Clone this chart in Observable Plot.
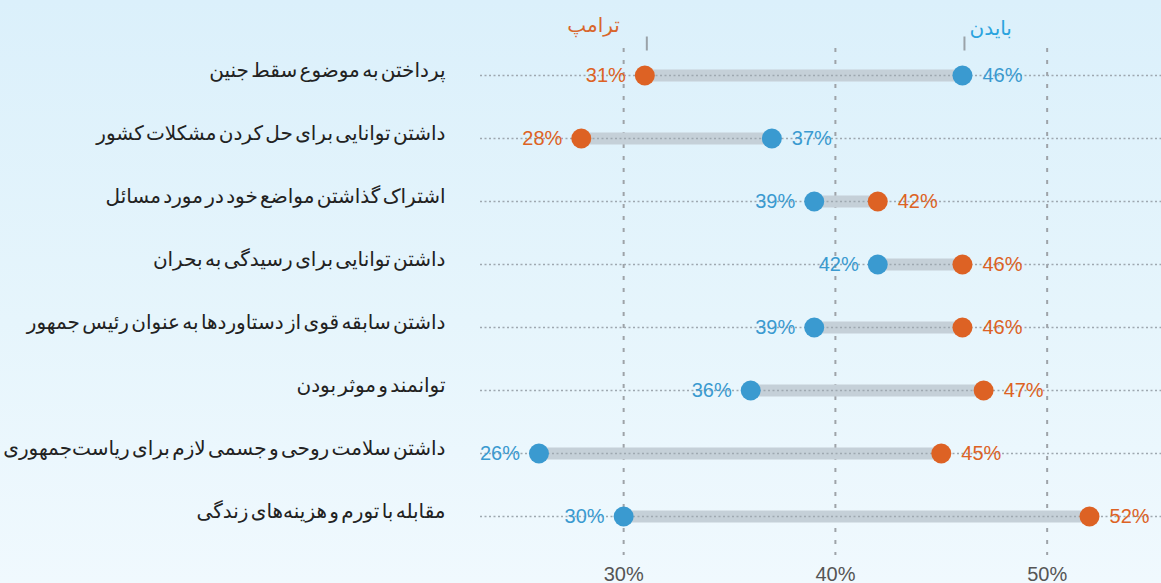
<!DOCTYPE html>
<html><head><meta charset="utf-8">
<script src="https://cdn.jsdelivr.net/npm/d3@7"></script>
<script src="https://cdn.jsdelivr.net/npm/@observablehq/plot@0.6"></script>
<style>
html,body{margin:0;padding:0;}
body{width:1161px;height:583px;background:linear-gradient(180deg,#dbf0fb 0%,#e6f5fc 55%,#f0f9fe 100%);overflow:hidden;}
g[aria-label="y-axis tick label"] text{word-spacing:-4px;}
</style></head><body><div id="chart"></div>
<script>
const categories = [
  "پرداختن به موضوع سقط جنین",
  "داشتن توانایی برای حل کردن مشکلات کشور",
  "اشتراک گذاشتن مواضع خود در مورد مسائل",
  "داشتن توانایی برای رسیدگی به بحران",
  "داشتن سابقه قوی از دستاوردها به عنوان رئیس جمهور",
  "توانمند و موثر بودن",
  "داشتن سلامت روحی و جسمی لازم برای ریاست‌جمهوری",
  "مقابله با تورم و هزینه‌های زندگی"
];
const trump = [31, 28, 42, 46, 46, 47, 45, 52];
const biden = [46, 37, 39, 42, 39, 36, 26, 30];
const xTicks = [30, 40, 50];
const seriesNames = ["ترامپ", "بایدن"];

const ORANGE = "#dd6224";
const BLUE = "#3a9ad0";
const orangeTitle = "#d8662c";
const blueTitle = "#2aa3de";

const rows = categories.map((c, i) => ({category: c, trump: trump[i], biden: biden[i]}));
const pts = rows.flatMap(r => [
  {category: r.category, value: r.trump, who: "trump", side: r.trump < r.biden ? "left" : "right"},
  {category: r.category, value: r.biden, who: "biden", side: r.biden < r.trump ? "left" : "right"}
]);
const fmt = d => d + "%";
const vline = {draw(ctx, size) { const r = Math.sqrt(size / Math.PI); ctx.moveTo(0, -r); ctx.lineTo(0, r); }};
const numFont = "Liberation Sans, Arial, sans-serif";
const faFont = "DejaVu Sans, sans-serif";

const chart = Plot.plot({
  width: 1161, height: 583,
  marginLeft: 480, marginRight: 0, marginTop: 48, marginBottom: 28,
  style: {background: "transparent", overflow: "visible"},
  x: {domain: [23.24, 55.4]},
  y: {type: "point", domain: categories, padding: 0.505, align: 0.406},
  marks: [
    Plot.gridX(xTicks, {stroke: "#9ea3a8", strokeOpacity: 1, strokeWidth: 2, strokeDasharray: "4,8"}),
    Plot.link(rows, {x1: "trump", x2: "biden", y1: "category", y2: "category", stroke: "#c5d0d8", strokeWidth: 12}),
    Plot.ruleY(categories, {y: d => d, stroke: "#9ea8b0", strokeWidth: 1.4, strokeDasharray: "2,2.5"}),
    Plot.dot(pts.filter(d => d.who === "trump"), {x: "value", y: "category", r: 10, fill: ORANGE}),
    Plot.dot(pts.filter(d => d.who === "biden"), {x: "value", y: "category", r: 10, fill: BLUE}),
    Plot.text(pts.filter(d => d.side === "left"), {x: "value", y: "category", text: d => fmt(d.value), textAnchor: "end", dx: -19, fontSize: 20, fontFamily: numFont, fill: d => d.who === "trump" ? ORANGE : BLUE}),
    Plot.text(pts.filter(d => d.side === "right"), {x: "value", y: "category", text: d => fmt(d.value), textAnchor: "start", dx: 20, fontSize: 20, fontFamily: numFont, fill: d => d.who === "trump" ? ORANGE : BLUE}),
    Plot.axisY({anchor: "left", label: null, tickSize: 0, tickPadding: 35, fontSize: 20, fontFamily: faFont, fill: "#222", dy: -5}),
    Plot.axisX({ticks: xTicks, tickFormat: fmt, tickSize: 0, tickPadding: 11, fontSize: 20, fontFamily: numFont, fill: "#555", label: null}),
    Plot.dot([0], {x: () => trump[0], y: () => categories[0], dx: 2, dy: -32, r: 7, symbol: vline, stroke: "#9aa2a8", strokeWidth: 2}),
    Plot.dot([0], {x: () => biden[0], y: () => categories[0], dx: 2, dy: -32, r: 7, symbol: vline, stroke: "#9aa2a8", strokeWidth: 2}),
    Plot.text([seriesNames[0]], {x: () => trump[0], y: () => categories[0], text: d => d, dx: -25, dy: -50, textAnchor: "end", fontSize: 20, fontFamily: faFont, fill: orangeTitle}),
    Plot.text([seriesNames[1]], {x: () => biden[0], y: () => categories[0], text: d => d, dx: 7, dy: -47, textAnchor: "start", fontSize: 20, fontFamily: faFont, fill: blueTitle})
  ]
});
document.getElementById("chart").append(chart);
</script></body></html>
